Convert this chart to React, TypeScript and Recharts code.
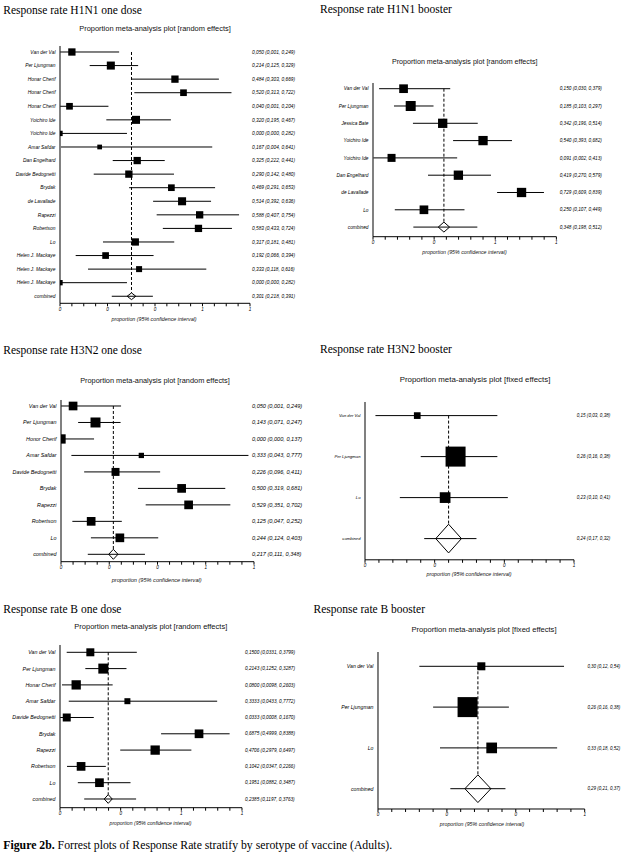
import React from "react";
import { ScatterChart, Scatter, XAxis, YAxis, ErrorBar, ReferenceLine } from "recharts";

const SANS = "'Liberation Sans', Arial, sans-serif";
const SERIF = "'Liberation Serif', 'Times New Roman', serif";

// ---- H1N1 one dose (random effects) ----
const h1OneNames = ["Van der Val", "Per Ljungman", "Honar Cherif", "Honar Cherif", "Honar Cherif", "Yoichiro Ide", "Yoichiro Ide", "Amar Safdar", "Dan Engelhard", "Davide Bedognetti", "Brydak", "de Lavallade", "Rapezzi", "Robertson", "Lo", "Helen J. Mackaye", "Helen J. Mackaye", "Helen J. Mackaye", "combined"];
const h1OneEst = [0.050, 0.214, 0.484, 0.520, 0.040, 0.320, 0.000, 0.167, 0.325, 0.290, 0.469, 0.514, 0.588, 0.583, 0.317, 0.192, 0.333, 0.000, 0.301];
const h1OneLo = [0.001, 0.125, 0.303, 0.313, 0.001, 0.195, 0.000, 0.004, 0.222, 0.142, 0.291, 0.392, 0.407, 0.433, 0.181, 0.066, 0.118, 0.000, 0.218];
const h1OneHi = [0.249, 0.329, 0.669, 0.722, 0.204, 0.467, 0.282, 0.641, 0.441, 0.480, 0.653, 0.636, 0.754, 0.724, 0.481, 0.394, 0.616, 0.282, 0.391];
const h1OneWt = [6.2, 7.5, 6.2, 5.2, 5.2, 7.5, 3.3, 2.6, 6.2, 6.2, 5.2, 7.5, 6.2, 6.2, 6.2, 5.2, 4.2, 3.3];

// ---- H1N1 booster (random effects) ----
const h1BoostNames = ["Van der Val", "Per Ljungman", "Jessica Bate", "Yoichiro Ide", "Yoichiro Ide", "Dan Engelhard", "de Lavallade", "Lo", "combined"];
const h1BoostEst = [0.150, 0.185, 0.342, 0.540, 0.091, 0.419, 0.729, 0.250, 0.348];
const h1BoostLo = [0.030, 0.103, 0.196, 0.393, 0.002, 0.270, 0.609, 0.107, 0.198];
const h1BoostHi = [0.379, 0.297, 0.514, 0.682, 0.413, 0.579, 0.839, 0.449, 0.512];
const h1BoostWt = [11.4, 15.1, 13.1, 13.1, 9.7, 13.1, 13.1, 11.4];

// ---- H3N2 one dose (random effects) ----
const h3OneNames = ["Van der Val", "Per Ljungman", "Honor Cherif", "Amar Safdar", "Davide Bedognetti", "Brydak", "Rapezzi", "Robertson", "Lo", "combined"];
const h3OneEst = [0.050, 0.143, 0.000, 0.333, 0.226, 0.500, 0.529, 0.125, 0.244, 0.217];
const h3OneLo = [0.001, 0.071, 0.000, 0.043, 0.096, 0.319, 0.351, 0.047, 0.124, 0.111];
const h3OneHi = [0.249, 0.247, 0.137, 0.777, 0.411, 0.681, 0.702, 0.252, 0.403, 0.348];
const h3OneWt = [11.5, 15.2, 13.2, 4.3, 9.7, 11.5, 11.5, 11.5, 11.5];

// ---- H3N2 booster (fixed effects) ----
const h3BoostNames = ["Van der Val", "Per Ljungman", "Lo", "combined"];
const h3BoostEst = [0.15, 0.26, 0.23, 0.24];
const h3BoostLo = [0.03, 0.16, 0.10, 0.17];
const h3BoostHi = [0.38, 0.38, 0.41, 0.32];
const h3BoostWt = [8.0, 71.6, 20.5];

// ---- B one dose (random effects) ----
const bOneNames = ["Van der Val", "Per Ljungman", "Honar Cherif", "Amar Safdar", "Davide Bedognetti", "Brydak", "Rapezzi", "Robertson", "Lo", "combined"];
const bOneEst = [0.1500, 0.2143, 0.0800, 0.3333, 0.0333, 0.6875, 0.4706, 0.1042, 0.1951, 0.2385];
const bOneLo = [0.0331, 0.1252, 0.0098, 0.0433, 0.0008, 0.4999, 0.2979, 0.0347, 0.0882, 0.1197];
const bOneHi = [0.3799, 0.3287, 0.2603, 0.7772, 0.1670, 0.8388, 0.6497, 0.2266, 0.3487, 0.3763];
const bOneWt = [9.6, 15.1, 13.0, 5.4, 9.6, 11.4, 13.0, 11.4, 11.4];

// ---- B booster (fixed effects) ----
const bBoostNames = ["Van der Val", "Per Ljungman", "Lo", "combined"];
const bBoostEst = [0.30, 0.26, 0.33, 0.29];
const bBoostLo = [0.12, 0.16, 0.18, 0.21];
const bBoostHi = [0.54, 0.38, 0.52, 0.37];
const bBoostWt = [11.1, 69.1, 19.8];

// ---- axes ----
const majors08 = [0, 0.2, 0.4, 0.6, 0.8];
const labels08 = ["0", "0", "0", "1", "1"];
const minors08 = [0.05, 0.1, 0.15, 0.25, 0.3, 0.35, 0.45, 0.5, 0.55, 0.65, 0.7, 0.75];
const majors09 = [0, 0.3, 0.6, 0.9];
const labels09 = ["0", "0", "1", "1"];
const minors09 = [0.06, 0.12, 0.18, 0.24, 0.36, 0.42, 0.48, 0.54, 0.66, 0.72, 0.78, 0.84];
const majors06 = [0, 0.2, 0.4, 0.6];
const labels06 = ["0", "0", "0", "1"];
const minors06 = [0.04, 0.08, 0.12, 0.16, 0.24, 0.28, 0.32, 0.36, 0.44, 0.48, 0.52, 0.56];

const RANDOM = "Proportion meta-analysis plot [random effects]";
const FIXED = "Proportion meta-analysis plot [fixed effects]";
const XLABEL = "proportion (95% confidence interval)";

const fmt = (v: number, d: number) => v.toFixed(d).replace(".", ",");

const panels = [
  {
    title: "Response rate H1N1 one dose", subtitle: RANDOM,
    names: h1OneNames, est: h1OneEst, lo: h1OneLo, hi: h1OneHi, wt: h1OneWt, digits: 3,
    xMax: 0.8, majors: majors08, majorLabels: labels08, minors: minors08,
    box: { l: 60, r: 250, t: 45.7, b: 303, y0: 51.7, dy: 13.57 },
    noteX: 252, noteFont: 4.8, labelFont: 4.9, k: 2.93, dw: 8.7, dh: 6.7,
    titlePos: [3.3, 13.5], sub: [155, 31.3, 7.45], xl: [154, 320.5, 5.3],
  },
  {
    title: "Response rate H1N1 booster", subtitle: RANDOM,
    names: h1BoostNames, est: h1BoostEst, lo: h1BoostLo, hi: h1BoostHi, wt: h1BoostWt, digits: 3,
    xMax: 0.9, majors: majors09, majorLabels: labels09, minors: minors09,
    box: { l: 373.3, r: 556.7, t: 83, b: 236.7, y0: 88.7, dy: 17.3 },
    noteX: 560, noteFont: 4.7, labelFont: 4.8, k: 2.57, dw: 11.3, dh: 10,
    titlePos: [320, 13.3], sub: [464.7, 64.3, 7.15], xl: [464.5, 254.2, 5.25],
  },
  {
    title: "Response rate H3N2 one dose", subtitle: RANDOM,
    names: h3OneNames, est: h3OneEst, lo: h3OneLo, hi: h3OneHi, wt: h3OneWt, digits: 3,
    xMax: 0.8, majors: majors08, majorLabels: labels08, minors: minors08,
    box: { l: 61, r: 254, t: 400, b: 561.7, y0: 406, dy: 16.48 },
    noteX: 252, noteFont: 5.6, labelFont: 5.4, k: 2.56, dw: 9.3, dh: 10,
    titlePos: [3.3, 354], sub: [155, 383.3, 7.35], xl: [156.7, 582, 5.6],
  },
  {
    title: "Response rate H3N2 booster", subtitle: FIXED,
    names: h3BoostNames, est: h3BoostEst, lo: h3BoostLo, hi: h3BoostHi, wt: h3BoostWt, digits: 2,
    xMax: 0.6, majors: majors06, majorLabels: labels06, minors: minors06,
    box: { l: 365, r: 574, t: 401.7, b: 559.5, y0: 415.3, dy: 41 },
    noteX: 576.7, noteFont: 4.6, labelFont: 4.2, k: 2.364, dw: 25.7, dh: 28.7,
    titlePos: [320, 353.3], sub: [475, 382, 7.9], xl: [469, 576, 5.3],
  },
  {
    title: "Response rate B one dose", subtitle: RANDOM,
    names: bOneNames, est: bOneEst, lo: bOneLo, hi: bOneHi, wt: bOneWt, digits: 4,
    xMax: 0.9, majors: majors09, majorLabels: labels09, minors: minors09,
    box: { l: 60, r: 242, t: 645, b: 807.7, y0: 652.3, dy: 16.3 },
    noteX: 245, noteFont: 4.7, labelFont: 5.3, k: 2.577, dw: 8, dh: 8.7,
    titlePos: [3.3, 613.3], sub: [150.8, 629.3, 7.5], xl: [150.5, 824.5, 5.1],
  },
  {
    title: "Response rate B booster", subtitle: FIXED,
    names: bBoostNames, est: bBoostEst, lo: bBoostLo, hi: bBoostHi, wt: bBoostWt, digits: 2,
    xMax: 0.6, majors: majors06, majorLabels: labels06, minors: minors06,
    box: { l: 378.3, r: 585, t: 651.7, b: 808.7, y0: 666, dy: 40.8 },
    noteX: 587.7, noteFont: 4.5, labelFont: 5.2, k: 2.405, dw: 26, dh: 27.7,
    titlePos: [313.5, 613.3], sub: [484, 632, 7.6], xl: [482, 826, 5.25],
  },
];

type P = (typeof panels)[number];

function Forest({ p }: { p: P }) {
  const B = p.box;
  const plotW = B.r - B.l;
  const plotH = B.b - B.t;
  const leftW = 60;
  const rightW = Math.min(72, 629 - B.r);
  const top = 6;
  const axisH = 14;
  const domTop = (B.t - B.y0) / B.dy;
  const domBot = (B.b - B.y0) / B.dy;
  const n = p.names.length;
  const rows = p.names.map((name, i) => ({
    row: i,
    name,
    est: p.est[i],
    err: [p.est[i] - p.lo[i], p.hi[i] - p.est[i]],
    pooled: i === n - 1,
    wt: i < n - 1 ? p.wt[i] : 0,
  }));
  const notes = rows.map((r, i) => `${fmt(p.est[i], p.digits)} (${fmt(p.lo[i], p.digits)}, ${fmt(p.hi[i], p.digits)})`);
  const ticks = [...p.majors, ...p.minors].sort((a, b) => a - b);
  const pooledEst = p.est[n - 1];
  const dashEnd = n - 1 - p.dh / 2 / B.dy;

  const xTick = (t: any) => {
    const v = t.payload.value;
    const mi = p.majors.findIndex((m) => Math.abs(m - v) < 1e-9);
    return (
      <g>
        <line x1={t.x} x2={t.x} y1={t.y} y2={t.y + 3} stroke="#000" strokeWidth={1} />
        {mi >= 0 && (
          <text x={t.x} y={t.y + 7.5} textAnchor="middle" fontSize={4.6} fontStyle="italic" fontFamily={SANS} fill="#000">
            {p.majorLabels[mi]}
          </text>
        )}
      </g>
    );
  };

  const yTick = (t: any) => {
    const i = Math.round(t.payload.value);
    return (
      <g>
        <text x={t.x - 4.5} y={t.y + p.labelFont * 0.36} textAnchor="end" fontSize={p.labelFont} fontStyle="italic" fontFamily={SANS} fill="#000">
          {p.names[i]}
        </text>
        <text x={t.x + (p.noteX - B.l)} y={t.y + p.noteFont * 0.36} textAnchor="start" fontSize={p.noteFont} fontStyle="italic" fontFamily={SANS} fill="#000">
          {notes[i]}
        </text>
      </g>
    );
  };

  const shape = (s: any) => {
    const { cx, cy, payload } = s;
    if (payload.pooled) {
      const w = p.dw / 2;
      const h = p.dh / 2;
      return (
        <polygon
          points={`${cx - w},${cy} ${cx},${cy - h} ${cx + w},${cy} ${cx},${cy + h}`}
          fill="none"
          stroke="#000"
          strokeWidth={1}
        />
      );
    }
    const side = p.k * Math.sqrt(payload.wt);
    return <rect x={cx - side / 2} y={cy - side / 2} width={side} height={side} fill="#000" />;
  };

  return (
    <div style={{ position: "absolute", left: B.l - leftW, top: B.t - top }}>
      <ScatterChart
        width={leftW + plotW + rightW}
        height={top + plotH + axisH}
        margin={{ top, right: rightW, bottom: 0, left: 0 }}
      >
        <XAxis
          type="number"
          dataKey="est"
          domain={[0, p.xMax]}
          allowDataOverflow
          ticks={ticks}
          interval={0}
          height={axisH}
          tickLine={false}
          tickSize={0}
          tickMargin={0}
          axisLine={{ stroke: "#000", strokeWidth: 1 }}
          tick={xTick}
        />
        <YAxis
          type="number"
          dataKey="row"
          domain={[domTop, domBot]}
          reversed
          allowDataOverflow
          ticks={rows.map((r) => r.row)}
          interval={0}
          width={leftW}
          tickLine={false}
          tickSize={0}
          tickMargin={0}
          axisLine={{ stroke: "#000", strokeWidth: 1 }}
          tick={yTick}
        />
        <ReferenceLine
          segment={[
            { x: pooledEst, y: 0 },
            { x: pooledEst, y: dashEnd },
          ]}
          stroke="#000"
          strokeWidth={1}
          strokeDasharray="3 2"
        />
        <Scatter data={rows} isAnimationActive={false} shape={shape}>
          <ErrorBar dataKey="err" direction="x" width={0} stroke="#000" strokeWidth={1} />
        </Scatter>
      </ScatterChart>
    </div>
  );
}

export default function App() {
  return (
    <div style={{ position: "absolute", left: 0, top: 0, width: 629, height: 864, background: "#fff", overflow: "hidden" }}>
      {panels.map((p, i) => (
        <Forest key={i} p={p} />
      ))}
      <svg width={629} height={864} style={{ position: "absolute", left: 0, top: 0, pointerEvents: "none" }}>
        {panels.map((p, i) => (
          <g key={i}>
            <text x={p.titlePos[0]} y={p.titlePos[1]} fontSize={11.5} fontFamily={SERIF} fill="#000">
              {p.title}
            </text>
            <text x={p.sub[0]} y={p.sub[1]} fontSize={p.sub[2]} fontFamily={SANS} textAnchor="middle" fill="#111">
              {p.subtitle}
            </text>
            <text x={p.xl[0]} y={p.xl[1]} fontSize={p.xl[2]} fontFamily={SANS} fontStyle="italic" textAnchor="middle" fill="#111">
              {XLABEL}
            </text>
          </g>
        ))}
        <text x={3.3} y={849.3} fontSize={11.75} fontFamily={SERIF} fill="#000">
          <tspan fontWeight="bold">Figure 2b.</tspan>
          {" Forrest plots of Response Rate stratify by serotype of vaccine (Adults)."}
        </text>
      </svg>
    </div>
  );
}
